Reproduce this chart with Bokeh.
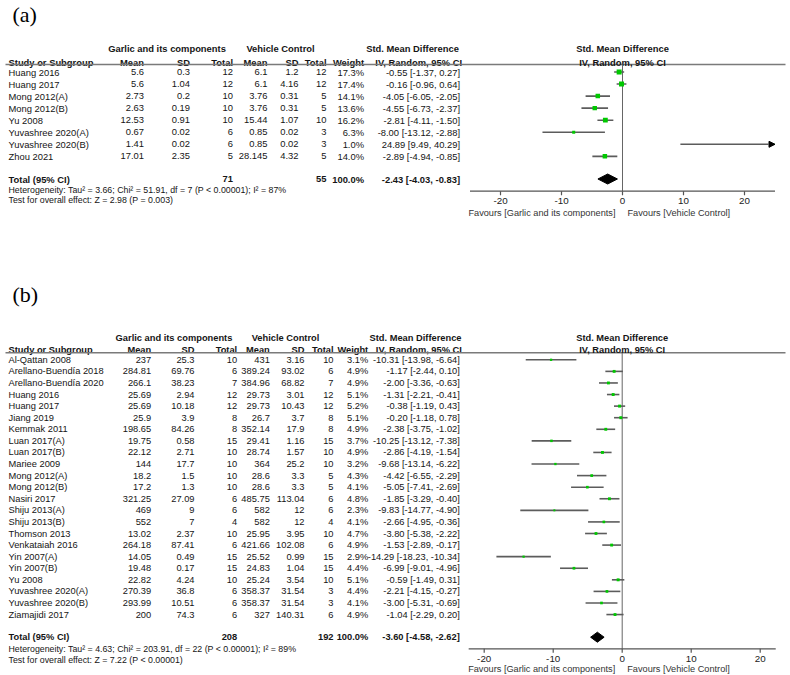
import numpy as np
from bokeh.plotting import figure
from bokeh.models import Range1d, ColumnDataSource, Arrow, NormalHead
from bokeh.core.properties import value
from bokeh.embed import file_html
from bokeh.resources import INLINE

# ---------------- Panel (a) data ----------------
a_study = ["Huang 2016", "Huang 2017", "Mong 2012(A)", "Mong 2012(B)", "Yu 2008",
           "Yuvashree 2020(A)", "Yuvashree 2020(B)", "Zhou 2021"]
a_g_mean = [5.6, 5.6, 2.73, 2.63, 12.53, 0.67, 1.41, 17.01]
a_g_sd = [0.3, 1.04, 0.2, 0.19, 0.91, 0.02, 0.02, 2.35]
a_g_n = [12, 12, 10, 10, 10, 6, 6, 5]
a_v_mean = [6.1, 6.1, 3.76, 3.76, 15.44, 0.85, 0.85, 28.145]
a_v_sd = [1.2, 4.16, 0.31, 0.31, 1.07, 0.02, 0.02, 4.32]
a_v_n = [12, 12, 5, 5, 10, 3, 3, 5]
a_weight = [17.3, 17.4, 14.1, 13.6, 16.2, 6.3, 1.0, 14.0]
a_smd = [-0.55, -0.16, -4.05, -4.55, -2.81, -8.00, 24.89, -2.89]
a_lo = [-1.37, -0.96, -6.05, -6.73, -4.11, -13.12, 9.49, -4.94]
a_hi = [0.27, 0.64, -2.05, -2.37, -1.50, -2.88, 40.29, -0.85]
a_total = [-2.43, -4.03, -0.83]
a_total_n = [71, 55]
a_het = "Heterogeneity: Tau\u00b2 = 3.66; Chi\u00b2 = 51.91, df = 7 (P < 0.00001); I\u00b2 = 87%"
a_test = "Test for overall effect: Z = 2.98 (P = 0.003)"
a_ticks = [-20, -10, 0, 10, 20]
a_scale = 25

# ---------------- Panel (b) data ----------------
b_study = ["Al-Qattan 2008", "Arellano-Buend\u00eda  2018", "Arellano-Buend\u00eda 2020", "Huang 2016",
           "Huang 2017", "Jiang 2019", "Kemmak 2011", "Luan 2017(A)", "Luan 2017(B)", "Mariee 2009",
           "Mong 2012(A)", "Mong 2012(B)", "Nasiri 2017", "Shiju 2013(A)", "Shiju 2013(B)",
           "Thomson 2013", "Venkataiah 2016", "Yin 2007(A)", "Yin 2007(B)", "Yu 2008",
           "Yuvashree 2020(A)", "Yuvashree 2020(B)", "Ziamajidi 2017"]
b_g_mean = [237, 284.81, 266.1, 25.69, 25.69, 25.9, 198.65, 19.75, 22.12, 144, 18.2, 17.2,
            321.25, 469, 552, 13.02, 264.18, 14.05, 19.48, 22.82, 270.39, 293.99, 200]
b_g_sd = [25.3, 69.76, 38.23, 2.94, 10.18, 3.9, 84.26, 0.58, 2.71, 17.7, 1.5, 1.3,
          27.09, 9, 7, 2.37, 87.41, 0.49, 0.17, 4.24, 36.8, 10.51, 74.3]
b_g_n = [10, 6, 7, 12, 12, 8, 8, 15, 10, 10, 10, 10, 6, 6, 4, 10, 6, 15, 15, 10, 6, 6, 6]
b_v_mean = [431, 389.24, 384.96, 29.73, 29.73, 26.7, 352.14, 29.41, 28.74, 364, 28.6, 28.6,
            485.75, 582, 582, 25.95, 421.66, 25.52, 24.83, 25.24, 358.37, 358.37, 327]
b_v_sd = [3.16, 93.02, 68.82, 3.01, 10.43, 3.7, 17.9, 1.16, 1.57, 25.2, 3.3, 3.3,
          113.04, 12, 12, 3.95, 102.08, 0.99, 1.04, 3.54, 31.54, 31.54, 140.31]
b_v_n = [10, 6, 7, 12, 12, 8, 8, 15, 10, 10, 5, 5, 6, 6, 4, 10, 6, 15, 15, 10, 3, 3, 6]
b_weight = [3.1, 4.9, 4.9, 5.1, 5.2, 5.1, 4.9, 3.7, 4.9, 3.2, 4.3, 4.1, 4.8, 2.3, 4.1,
            4.7, 4.9, 2.9, 4.4, 5.1, 4.4, 4.1, 4.9]
b_smd = [-10.31, -1.17, -2.00, -1.31, -0.38, -0.20, -2.38, -10.25, -2.86, -9.68, -4.42, -5.05,
         -1.85, -9.83, -2.66, -3.80, -1.53, -14.29, -6.99, -0.59, -2.21, -3.00, -1.04]
b_lo = [-13.98, -2.44, -3.36, -2.21, -1.19, -1.18, -3.75, -13.12, -4.19, -13.14, -6.55, -7.41,
        -3.29, -14.77, -4.95, -5.38, -2.89, -18.23, -9.01, -1.49, -4.15, -5.31, -2.29]
b_hi = [-6.64, 0.10, -0.63, -0.41, 0.43, 0.78, -1.02, -7.38, -1.54, -6.22, -2.29, -2.69,
        -0.40, -4.90, -0.36, -2.22, -0.17, -10.34, -4.96, 0.31, -0.27, -0.69, 0.20]
b_total = [-3.60, -4.58, -2.62]
b_total_n = [208, 192]
b_het = "Heterogeneity: Tau\u00b2 = 4.63; Chi\u00b2 = 203.91, df = 22 (P < 0.00001); I\u00b2 = 89%"
b_test = "Test for overall effect: Z = 7.22 (P < 0.00001)"
b_ticks = [-20, -10, 0, 10, 20]
b_scale = 22.25

FONT = value("Liberation Sans")
SERIF = value("Liberation Serif")
TXT = "#151515"
W, H = 790, 675

# layout (page pixels)
LA = dict(key="a", row0=71.5, s=12.05, lab=14, h1=48, h2=61.5, line=64, tot=178.5, het=189,
          test=199.5, cols=[143.5, 189.5, 232.5, 267, 298, 326, 363.5, 459.5],
          grp=[166.5, 280, 412], ppu=6.1, zero=622, axis=190.7, fav=212, sq=1.2, dh=5,
          fs="9.4px")
LB = dict(key="b", row0=359.3, s=11.58, lab=294, h1=337.5, h2=349.5, line=352.3, tot=636.7,
          het=648, test=659, cols=[150.7, 194, 236.7, 269.3, 304, 333, 367.7, 459.3],
          grp=[173.5, 285, 415], ppu=6.9, zero=621.7, axis=648.3, fav=668.5, sq=1.3, dh=5,
          fs="9.3px")

extra_x = {}
extra_y = {}
for L in (LA, LB):
    extra_x["f" + L["key"]] = Range1d(-L["zero"] / L["ppu"], (W - L["zero"]) / L["ppu"])
    extra_y["r" + L["key"]] = Range1d((H - L["row0"]) / L["s"], -L["row0"] / L["s"])

p = figure(width=W, height=H, x_range=Range1d(0, W), y_range=Range1d(H, 0),
           output_backend="svg", toolbar_location=None, x_axis_location=None,
           y_axis_location=None, min_border=0, title=None)
p.extra_x_ranges = extra_x
p.extra_y_ranges = extra_y
p.outline_line_color = None
p.grid.visible = False
p.background_fill_color = "white"
p.border_fill_color = "white"


def fmt(v):
    return f"{v:g}"


def ci_text(m, l, h):
    return f"{m:.2f} [{l:.2f}, {h:.2f}]"


def build_panel(label, study, gm, gsd, gn, vm, vsd, vn, wt, smd, lo, hi, tot, totn, het, test,
                ticks, scale, L):
    n = len(study)
    rows = np.arange(n)
    fx = "f" + L["key"]
    ry = "r" + L["key"]
    fs = L["fs"]

    def t(x, y, text, align="left", size=fs, bold=False, font=FONT, color=TXT, yr="default",
          xr="default", xoff=0):
        p.text(x=x, y=y, text=text, text_align=align, text_baseline="middle",
               text_font=font, text_font_size=size, text_color=color, x_offset=xoff,
               text_font_style="bold" if bold else "normal", x_range_name=xr, y_range_name=yr)

    # ----- table -----
    t(12, [L["lab"]], [label], size="22px", font=SERIF, color="#000000")
    c, g = L["cols"], L["grp"]
    t(g[0], [L["h1"]], ["Garlic and its components"], "center", bold=True)
    t(g[1], [L["h1"]], ["Vehicle Control"], "center", bold=True)
    t(g[2], [L["h1"]], ["Std. Mean Difference"], "center", bold=True)
    t(8, [L["h2"]], ["Study or Subgroup"], bold=True)
    for x, lab in zip(c[:7], ["Mean", "SD", "Total", "Mean", "SD", "Total", "Weight"]):
        t(x, [L["h2"]], [lab], "right", bold=True)
    t(c[7] + 2, [L["h2"]], ["IV, Random, 95% CI"], "right", bold=True)
    p.segment(x0=[5], y0=[L["line"]], x1=[785], y1=[L["line"]],
              line_color="#7a7a7a", line_width=1.5)

    t(8, rows, study, yr=ry)
    t(c[0], rows, [fmt(v) for v in gm], "right", yr=ry)
    t(c[1], rows, [fmt(v) for v in gsd], "right", yr=ry)
    t(c[2], rows, [str(v) for v in gn], "right", yr=ry)
    t(c[3], rows, [fmt(v) for v in vm], "right", yr=ry)
    t(c[4], rows, [fmt(v) for v in vsd], "right", yr=ry)
    t(c[5], rows, [str(v) for v in vn], "right", yr=ry)
    t(c[6], rows, [f"{v:.1f}%" for v in wt], "right", yr=ry)
    t(c[7], rows, [ci_text(m, l, h) for m, l, h in zip(smd, lo, hi)], "right", yr=ry)

    ty = L["tot"]
    t(8, [ty], ["Total (95% CI)"], bold=True)
    t(c[2], [ty], [str(totn[0])], "right", bold=True)
    t(c[5], [ty], [str(totn[1])], "right", bold=True)
    t(c[6], [ty], ["100.0%"], "right", bold=True)
    t(c[7], [ty], [ci_text(*tot)], "right", bold=True)
    t(8, [L["het"]], [het], size="8.8px")
    t(8, [L["test"]], [test], size="8.8px")

    # ----- forest -----
    t(0, [L["h1"]], ["Std. Mean Difference"], "center", bold=True, xr=fx)
    t(0, [L["h2"]], ["IV, Random, 95% CI"], "center", bold=True, xr=fx)
    p.segment(x0=[0], y0=[L["line"]], x1=[0], y1=[L["axis"]],
              line_color="#666666", line_width=1, x_range_name=fx)

    # axis drawn through the forest scale
    ax = L["axis"]
    p.segment(x0=[-scale], y0=[ax], x1=[scale], y1=[ax], line_color="#555555",
              line_width=1.3, x_range_name=fx)
    p.segment(x0=ticks, y0=[ax] * len(ticks), x1=ticks, y1=[ax + 4] * len(ticks),
              line_color="#555555", line_width=1.2, x_range_name=fx)
    t(ticks, [ax + 10] * len(ticks), [str(v) for v in ticks], "center", size="9.8px",
      color="#222222", xr=fx)
    t([0], [L["fav"]], ["Favours [Garlic and its components]"], "right", size="9.2px",
      color="#333333", xr=fx, xoff=-7)
    t([0], [L["fav"]], ["Favours [Vehicle Control]"], "left", size="9.2px",
      color="#333333", xr=fx, xoff=5)

    lo_a = np.array(lo)
    hi_a = np.array(hi)
    clipped = hi_a > scale
    ok = ~clipped
    p.segment(x0=lo_a[ok], y0=rows[ok], x1=hi_a[ok], y1=rows[ok],
              line_color="#5c5c5c", line_width=1.6, x_range_name=fx, y_range_name=ry)
    if clipped.any():
        src = ColumnDataSource(dict(x0=lo_a[clipped], x1=np.minimum(hi_a[clipped], scale),
                                    y=rows[clipped]))
        p.add_layout(Arrow(end=NormalHead(size=6, fill_color="black", line_color="black"),
                           x_start="x0", y_start="y", x_end="x1", y_end="y", source=src,
                           line_color="#5c5c5c", line_width=1.6,
                           x_range_name=fx, y_range_name=ry))
    sizes = L["sq"] * np.sqrt(np.array(wt))
    p.scatter(x=smd, y=rows, marker="square", size=sizes, fill_color="#00c800",
              line_color=None, x_range_name=fx, y_range_name=ry)

    dh = L["dh"]
    p.patch(x=[tot[1], tot[0], tot[2], tot[0]], y=[ty, ty - dh, ty, ty + dh],
            fill_color="black", line_color="black", x_range_name=fx)


build_panel("(a)", a_study, a_g_mean, a_g_sd, a_g_n, a_v_mean, a_v_sd, a_v_n, a_weight,
            a_smd, a_lo, a_hi, a_total, a_total_n, a_het, a_test, a_ticks, a_scale, LA)
build_panel("(b)", b_study, b_g_mean, b_g_sd, b_g_n, b_v_mean, b_v_sd, b_v_n, b_weight,
            b_smd, b_lo, b_hi, b_total, b_total_n, b_het, b_test, b_ticks, b_scale, LB)

open("out.html", "w").write(file_html(p, INLINE))
